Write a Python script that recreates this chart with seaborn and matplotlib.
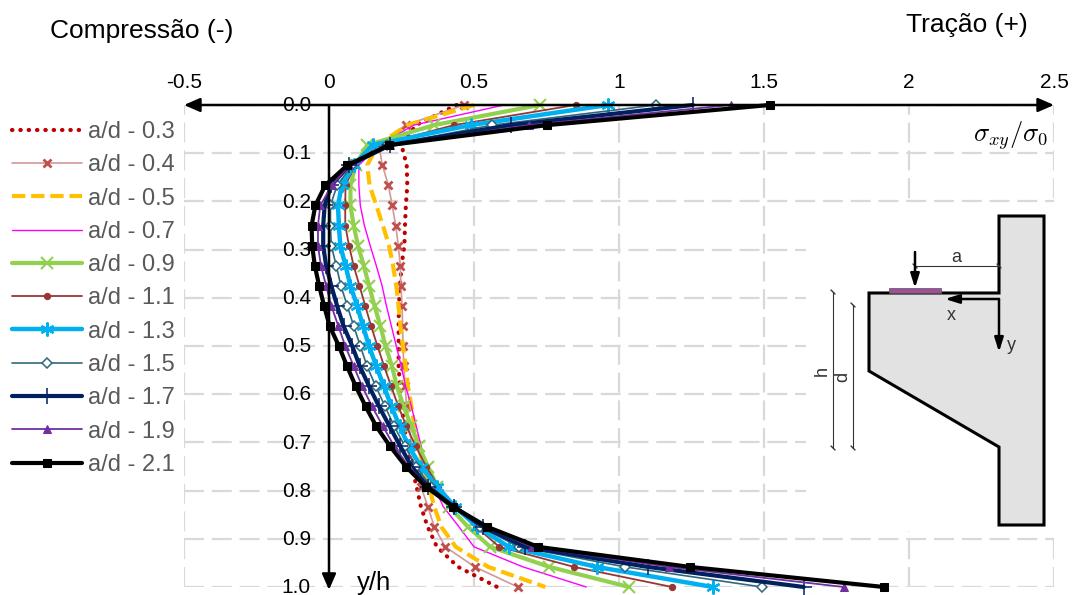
import matplotlib
matplotlib.use("Agg")
import matplotlib.pyplot as plt
import matplotlib.patches as mpatches
import matplotlib.transforms as mtrans
import seaborn as sns

# y/h stations along the section height
y_h = [0.0, 0.0417, 0.0833, 0.125, 0.1667, 0.2083, 0.25, 0.2917, 0.3333, 0.375, 0.4167, 0.4583, 0.5,
       0.5417, 0.5833, 0.625, 0.6667, 0.7083, 0.75, 0.7917, 0.8333, 0.875, 0.9167, 0.9583, 1.0]

# shear stress ratio
ad_03 = [0.44, 0.30, 0.25, 0.268, 0.27, 0.265, 0.262, 0.26, 0.25, 0.245, 0.241, 0.24, 0.24,
         0.24, 0.245, 0.25, 0.26, 0.27, 0.285, 0.302, 0.317, 0.34, 0.372, 0.445, 0.58]
ad_04 = [0.466, 0.264, 0.172, 0.184, 0.205, 0.218, 0.23, 0.239, 0.246, 0.248, 0.252, 0.254, 0.255,
         0.258, 0.262, 0.268, 0.277, 0.285, 0.295, 0.317, 0.341, 0.363, 0.401, 0.503, 0.651]
ad_05 = [0.50, 0.27, 0.167, 0.132, 0.14, 0.163, 0.186, 0.207, 0.221, 0.232, 0.24, 0.246, 0.255,
         0.264, 0.272, 0.284, 0.295, 0.31, 0.324, 0.345, 0.363, 0.387, 0.437, 0.549, 0.746]
ad_07 = [0.603, 0.293, 0.172, 0.103, 0.103, 0.108, 0.122, 0.142, 0.163, 0.183, 0.198, 0.215, 0.232,
         0.249, 0.264, 0.284, 0.301, 0.318, 0.335, 0.363, 0.394, 0.448, 0.50, 0.669, 0.887]
ad_09 = [0.726, 0.362, 0.132, 0.092, 0.074, 0.074, 0.085, 0.10, 0.12, 0.138, 0.157, 0.177, 0.195,
         0.217, 0.234, 0.257, 0.284, 0.31, 0.341, 0.373, 0.415, 0.479, 0.556, 0.76, 1.035]
ad_11 = [0.85, 0.431, 0.17, 0.09, 0.057, 0.056, 0.056, 0.069, 0.085, 0.105, 0.125, 0.145, 0.167,
         0.19, 0.214, 0.239, 0.267, 0.299, 0.335, 0.377, 0.43, 0.507, 0.587, 0.845, 1.183]
ad_13 = [0.962, 0.488, 0.15, 0.086, 0.044, 0.031, 0.034, 0.039, 0.057, 0.074, 0.097, 0.117, 0.138,
         0.163, 0.189, 0.215, 0.244, 0.275, 0.317, 0.373, 0.434, 0.511, 0.62, 0.923, 1.324]
ad_15 = [1.128, 0.563, 0.20, 0.08, 0.028, 0.005, 0.005, 0.008, 0.025, 0.041, 0.063, 0.085, 0.108,
         0.131, 0.161, 0.193, 0.225, 0.262, 0.30, 0.352, 0.43, 0.52, 0.655, 1.021, 1.493]
ad_17 = [1.255, 0.626, 0.21, 0.07, 0.008, -0.015, -0.02, -0.02, -0.01, 0.008, 0.028, 0.05, 0.08,
         0.106, 0.138, 0.172, 0.209, 0.246, 0.285, 0.341, 0.43, 0.531, 0.676, 1.099, 1.637]
ad_19 = [1.386, 0.69, 0.21, 0.07, 0.01, -0.03, -0.038, -0.038, -0.028, -0.01, 0.008, 0.032, 0.056,
         0.085, 0.114, 0.148, 0.186, 0.225, 0.275, 0.338, 0.43, 0.54, 0.70, 1.172, 1.775]
ad_21 = [1.52, 0.753, 0.207, 0.063, -0.013, -0.047, -0.06, -0.058, -0.049, -0.034, -0.017, 0.002, 0.034,
         0.062, 0.092, 0.126, 0.163, 0.211, 0.265, 0.334, 0.427, 0.545, 0.721, 1.244, 1.913]

x_ticks = [-0.5, 0, 0.5, 1, 1.5, 2, 2.5]
x_tick_labels = ["-0.5", "0", "0.5", "1", "1.5", "2", "2.5"]
y_ticks = [0.0, 0.1, 0.2, 0.3, 0.4, 0.5, 0.6, 0.7, 0.8, 0.9, 1.0]
y_tick_labels = ["0.0", "0.1", "0.2", "0.3", "0.4", "0.5", "0.6", "0.7", "0.8", "0.9", "1.0"]

series = [
    ("a/d - 0.3", ad_03, dict(color="#C00000", lw=3, ls=(0, (0.1, 1.9)), dash_capstyle="round")),
    ("a/d - 0.4", ad_04, dict(color="#CF9A98", lw=1.2, marker="x", ms=6, mew=2, mec="#C0504D")),
    ("a/d - 0.5", ad_05, dict(color="#FFC000", lw=3, ls=(0, (3.2, 1.4)))),
    ("a/d - 0.7", ad_07, dict(color="#FF00FF", lw=1)),
    ("a/d - 0.9", ad_09, dict(color="#92D050", lw=3, marker="x", ms=9, mew=1.5, mec="#92D050")),
    ("a/d - 1.1", ad_11, dict(color="#953735", lw=1.3, marker="o", ms=4.5, mec="#953735")),
    ("a/d - 1.3", ad_13, dict(color="#00B0F0", lw=3.2, marker=(6, 2, 0), ms=10, mew=1.6, mec="#00B0F0")),
    ("a/d - 1.5", ad_15, dict(color="#31697A", lw=1.2, marker="D", ms=5, mew=1.1, mfc="white", mec="#31697A")),
    ("a/d - 1.7", ad_17, dict(color="#002060", lw=3, marker="+", ms=11, mew=1.1, mec="#002060")),
    ("a/d - 1.9", ad_19, dict(color="#7030A0", lw=1.3, marker="^", ms=5.5, mec="#7030A0")),
    ("a/d - 2.1", ad_21, dict(color="black", lw=3, marker="s", ms=5.5, mec="black")),
]

sns.set_theme(style="white")
plt.rcParams["font.family"] = ["Liberation Sans", "DejaVu Sans"]
plt.rcParams["mathtext.fontset"] = "cm"

W, H = 1075, 595
fig = plt.figure(figsize=(W / 100, H / 100), dpi=100)
ax = fig.add_axes([184 / W, 1 - 587 / H, 870 / W, 482 / H])

handles = []
for label, values, style in series:
    sns.lineplot(x=values, y=y_h, ax=ax, sort=False, estimator=None, orient="y", label=label, clip_on=False, zorder=3, **style)
    handles.append(ax.lines[-1])

ax.set_xlim(-0.5, 2.5)
ax.set_ylim(1.0, 0.0)
ax.set_xlabel("")
ax.set_ylabel("")

# the axes cross at the origin, so no frame
for s in ax.spines.values():
    s.set_visible(False)
ax.xaxis.tick_top()
ax.set_xticks(x_ticks, x_tick_labels)
ax.set_yticks(y_ticks, y_tick_labels)
ax.spines["left"].set_position(("data", 0))
ax.tick_params(axis="x", length=0, pad=9, labelsize=15, labelcolor="black")
ax.tick_params(axis="y", length=0, pad=13, labelsize=15, labelcolor="black")
lift = mtrans.ScaledTranslation(0, 1 / 72, fig.dpi_scale_trans)
for t in ax.get_yticklabels():
    t.set_zorder(6)
    t.set_transform(t.get_transform() + lift)
ax.grid(True, color="#d9d9d9", lw=1.6, ls=(0, (9, 3.5)), zorder=0)
ax.set_axisbelow(True)

# axis arrows
ax.annotate("", xy=(-0.5, 0), xytext=(2.5, 0), xycoords="data", annotation_clip=False, zorder=5,
            arrowprops=dict(arrowstyle="<|-|>,head_length=0.8,head_width=0.35", color="black", lw=1.8, shrinkA=0, shrinkB=0))
ax.annotate("", xy=(0, 1.006), xytext=(0, 0), xycoords="data", annotation_clip=False, zorder=5,
            arrowprops=dict(arrowstyle="-|>,head_length=0.8,head_width=0.35", color="black", lw=1.8, shrinkA=0, shrinkB=0))

leg = ax.legend(handles=handles, loc="upper left", bbox_to_anchor=(12 / W, 1 - 121 / H), bbox_transform=fig.transFigure,
                frameon=False, fontsize=17, labelcolor="#595959", handlelength=2.96, handletextpad=0.25,
                labelspacing=0.478, borderpad=0, borderaxespad=0, numpoints=1)

fig.text(50 / W, 1 - 31 / H, "Compressão (-)", fontsize=19, va="center", color="black")
fig.text(906 / W, 1 - 25 / H, "Tração (+)", fontsize=19, va="center", color="black")
fig.text(973 / W, 1 - 136 / H, r"$\sigma_{xy}/\sigma_0$", fontsize=19, va="center", color="black")
fig.text(357 / W, 1 - 583 / H, "y/h", fontsize=18.5, va="center", color="black")

# corbel sketch, drawn in picture pixels on its own white panel
sk = fig.add_axes([806 / W, 1 - 531 / H, 250 / W, 326 / H], zorder=4)
sk.set_xlim(806, 1056)
sk.set_ylim(531, 205)
sk.set_facecolor("white")
sk.axis("off")
sk.add_patch(mpatches.Rectangle((806, 205), 250, 326, fc="white", ec="none"))
sk.add_patch(mpatches.Polygon([(999, 216), (1044, 216), (1044, 525), (999, 525), (999, 447), (869, 371), (869, 293), (999, 293)],
                              closed=True, fc="#e2e2e2", ec="black", lw=2.2, joinstyle="miter"))
sk.add_patch(mpatches.Rectangle((889, 288), 52, 5, fc="#A0509A", ec="#555555", lw=0.5))


def arrow(x0, y0, x1, y1):
    sk.annotate("", xy=(x1, y1), xytext=(x0, y0),
                arrowprops=dict(arrowstyle="-|>,head_length=0.7,head_width=0.22", color="black", lw=1.8, shrinkA=0, shrinkB=0))


arrow(915, 252, 915, 288)
arrow(999, 299, 945, 299)
arrow(999, 299, 999, 352)

# dimension lines with their slashes
for x0, y0, x1, y1 in [(915, 266, 999, 266), (833, 292, 833, 448), (853, 305, 853, 448)]:
    sk.plot([x0, x1], [y0, y1], color="#333333", lw=0.8)
    sk.plot([x0 - 2, x0 + 2], [y0 - 2, y0 + 2], color="#333333", lw=1)
    sk.plot([x1 - 2, x1 + 2], [y1 - 2, y1 + 2], color="#333333", lw=1)

sk.text(956, 257, "a", fontsize=13, ha="center", va="center", color="#333333")
sk.text(951, 315, "x", fontsize=13, ha="center", va="center", color="#333333")
sk.text(1011, 346, "y", fontsize=13, ha="center", va="center", color="#333333")
sk.text(822, 371, "h", fontsize=13, rotation=90, ha="center", va="center", color="#333333")
sk.text(843, 377, "d", fontsize=13, rotation=90, ha="center", va="center", color="#333333")

fig.savefig("out.png", dpi=100)
